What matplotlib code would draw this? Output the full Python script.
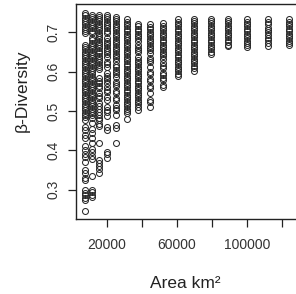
import matplotlib
matplotlib.use("Agg")
import matplotlib.pyplot as plt

plt.rcParams["font.family"] = ["Liberation Sans", "DejaVu Sans"]

# --- data: one column of points per area ---
areas = [7600, 11400, 15600, 20000, 25300, 31400, 38100, 44700,
         52400, 61000, 69800, 79400, 89600, 100400, 111900, 124000]

beta = [
    [0.748, 0.743, 0.737, 0.731, 0.726, 0.72, 0.714, 0.709, 0.703, 0.698,
     0.668, 0.663, 0.657, 0.651, 0.645, 0.64, 0.634, 0.628, 0.622, 0.617,
     0.611, 0.605, 0.599, 0.594, 0.588, 0.582, 0.576, 0.571, 0.565, 0.559,
     0.553, 0.548, 0.542, 0.536, 0.53, 0.525, 0.519, 0.513, 0.507, 0.502,
     0.496, 0.49, 0.484, 0.478, 0.46, 0.452, 0.44, 0.432, 0.412, 0.4,
     0.392, 0.384, 0.372, 0.35, 0.342, 0.33, 0.325, 0.3, 0.292, 0.287,
     0.28, 0.275, 0.246],
    [0.744, 0.738, 0.733, 0.727, 0.721, 0.716, 0.71, 0.704, 0.699, 0.686,
     0.68, 0.674, 0.668, 0.662, 0.657, 0.651, 0.645, 0.639, 0.634, 0.628,
     0.622, 0.616, 0.61, 0.605, 0.599, 0.593, 0.587, 0.582, 0.576, 0.57,
     0.564, 0.558, 0.553, 0.547, 0.541, 0.535, 0.529, 0.524, 0.518, 0.512,
     0.506, 0.5, 0.495, 0.489, 0.483, 0.47, 0.455, 0.445, 0.432, 0.42,
     0.405, 0.395, 0.387, 0.378, 0.335, 0.3, 0.295, 0.288, 0.282],
    [0.745, 0.74, 0.734, 0.728, 0.722, 0.717, 0.711, 0.705, 0.699, 0.694,
     0.688, 0.682, 0.676, 0.67, 0.665, 0.659, 0.653, 0.647, 0.641, 0.636,
     0.63, 0.624, 0.618, 0.612, 0.607, 0.583, 0.577, 0.571, 0.565, 0.559,
     0.545, 0.539, 0.533, 0.52, 0.514, 0.505, 0.499, 0.49, 0.483, 0.477,
     0.468, 0.462, 0.418, 0.376, 0.368, 0.36, 0.352, 0.344],
    [0.744, 0.738, 0.733, 0.727, 0.721, 0.716, 0.71, 0.704, 0.698, 0.685,
     0.679, 0.673, 0.667, 0.661, 0.656, 0.65, 0.644, 0.638, 0.625, 0.619,
     0.613, 0.596, 0.59, 0.584, 0.578, 0.572, 0.56, 0.554, 0.548, 0.535,
     0.529, 0.51, 0.504, 0.498, 0.488, 0.46, 0.452, 0.397, 0.39, 0.382],
    [0.74, 0.734, 0.728, 0.722, 0.716, 0.711, 0.705, 0.699, 0.693, 0.687,
     0.681, 0.675, 0.67, 0.664, 0.658, 0.652, 0.646, 0.64, 0.634, 0.628,
     0.617, 0.611, 0.605, 0.599, 0.593, 0.587, 0.575, 0.569, 0.563, 0.551,
     0.545, 0.533, 0.527, 0.515, 0.509, 0.503, 0.49, 0.465, 0.457, 0.42],
    [0.733, 0.727, 0.721, 0.715, 0.709, 0.703, 0.697, 0.691, 0.686, 0.68,
     0.674, 0.668, 0.662, 0.656, 0.65, 0.644, 0.638, 0.632, 0.626, 0.62,
     0.614, 0.608, 0.602, 0.596, 0.59, 0.584, 0.578, 0.572, 0.566, 0.56,
     0.554, 0.548, 0.542, 0.536, 0.53, 0.524, 0.518, 0.512, 0.506, 0.5,
     0.494, 0.479],
    [0.721, 0.715, 0.709, 0.703, 0.697, 0.691, 0.685, 0.679, 0.667, 0.661,
     0.655, 0.649, 0.637, 0.631, 0.625, 0.619, 0.613, 0.607, 0.601, 0.595,
     0.589, 0.583, 0.577, 0.571, 0.565, 0.559, 0.553, 0.547, 0.541, 0.535,
     0.529, 0.523, 0.517, 0.511, 0.503],
    [0.72, 0.714, 0.708, 0.702, 0.696, 0.69, 0.684, 0.678, 0.672, 0.666,
     0.66, 0.654, 0.648, 0.636, 0.63, 0.624, 0.612, 0.6, 0.594, 0.582,
     0.576, 0.564, 0.558, 0.546, 0.528, 0.522, 0.511],
    [0.723, 0.717, 0.711, 0.705, 0.699, 0.693, 0.687, 0.681, 0.675, 0.669,
     0.663, 0.657, 0.651, 0.645, 0.639, 0.633, 0.621, 0.615, 0.609, 0.597,
     0.591, 0.585, 0.579, 0.567, 0.56],
    [0.733, 0.727, 0.721, 0.715, 0.709, 0.703, 0.697, 0.691, 0.685, 0.679,
     0.673, 0.667, 0.661, 0.655, 0.649, 0.643, 0.637, 0.631, 0.625, 0.619,
     0.613, 0.607, 0.601, 0.595, 0.588],
    [0.735, 0.729, 0.723, 0.717, 0.711, 0.705, 0.699, 0.693, 0.687, 0.681,
     0.675, 0.669, 0.663, 0.657, 0.651, 0.645, 0.639, 0.633, 0.627, 0.621,
     0.615, 0.609, 0.603],
    [0.735, 0.729, 0.723, 0.717, 0.711, 0.705, 0.699, 0.693, 0.687, 0.681,
     0.675, 0.669, 0.663, 0.657, 0.651, 0.645],
    [0.735, 0.729, 0.723, 0.717, 0.711, 0.705, 0.699, 0.693, 0.687, 0.681,
     0.675, 0.669, 0.665],
    [0.733, 0.727, 0.721, 0.715, 0.709, 0.703, 0.697, 0.691, 0.685, 0.679,
     0.673, 0.667, 0.664],
    [0.733, 0.726, 0.72, 0.712, 0.706, 0.7, 0.693, 0.686, 0.68, 0.673, 0.665],
    [0.733, 0.727, 0.721, 0.715, 0.709, 0.703, 0.697, 0.691, 0.685, 0.679,
     0.673, 0.668],
]

x_ticks = [20000, 40000, 60000, 80000, 100000, 120000]
x_ticklabels = ["20000", "", "60000", "", "100000", ""]
y_ticks = [0.3, 0.4, 0.5, 0.6, 0.7]
y_ticklabels = ["0.3", "0.4", "0.5", "0.6", "0.7"]

fig = plt.figure(figsize=(2.96, 2.94), dpi=100)
# axes runs off the right edge like the cropped original
ax = fig.add_axes([76 / 296, 1 - 219 / 294, 224 / 296, 215 / 294])

for a, ys in zip(areas, beta):
    ax.plot([a] * len(ys), ys, linestyle="none", marker="o", markersize=4.3,
            markerfacecolor="none", markeredgecolor="#2a2a2a",
            markeredgewidth=0.75)

ax.set_xlim(2457, 130460)
ax.set_ylim(0.226, 0.772)

ax.set_xticks(x_ticks)
ax.set_xticklabels(x_ticklabels)
ax.set_yticks(y_ticks)
ax.set_yticklabels(y_ticklabels, rotation=90, va="center")
ax.tick_params(axis="both", length=5.5, width=0.9, color="#222222",
               labelsize=10, labelcolor="#333333")
ax.tick_params(axis="x", pad=8)
ax.tick_params(axis="y", pad=5.5)

for s in ax.spines.values():
    s.set_linewidth(1.0)
    s.set_color("#222222")

ax.set_xlabel("Area km²", fontsize=12.5, color="#222222")
ax.xaxis.set_label_coords((185 - 76) / 224, (219 - 283) / 215)
ax.xaxis.label.set_va("center")
ax.set_ylabel("β-Diversity", fontsize=12.5, color="#222222")
ax.yaxis.set_label_coords((22 - 76) / 224, (219 - 91) / 215)
ax.yaxis.label.set_va("center")

fig.savefig("out.png", dpi=100)
